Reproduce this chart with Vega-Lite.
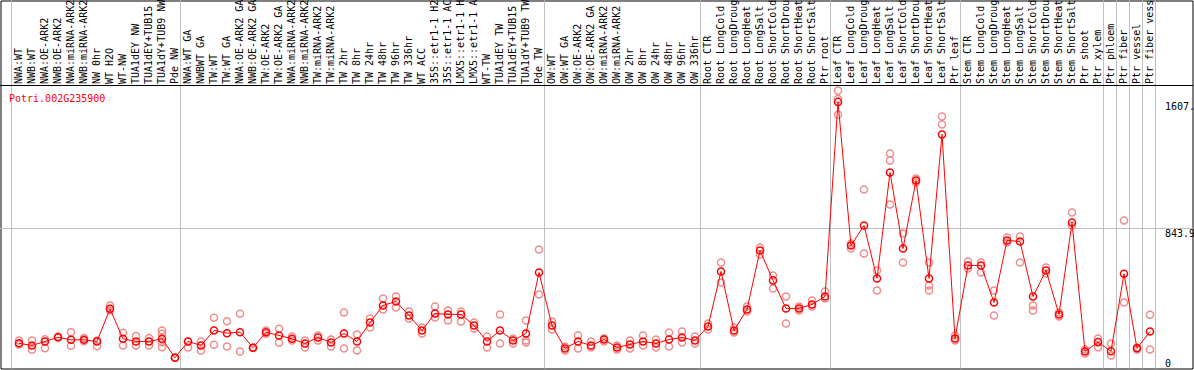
{
  "$schema": "https://vega.github.io/schema/vega-lite/v6.json",
  "autosize": "none",
  "width": 1192,
  "height": 368,
  "padding": {"left": 0.5, "top": 0.5, "right": 1.5, "bottom": 1.5},
  "background": "white",
  "title": {"text": "Potri.002G235900", "orient": "bottom", "anchor": "start", "frame": "group", "offset": 0, "dx": 8.5, "dy": -270.5, "baseline": "middle", "color": "#ff0000", "fontSize": 10, "font": "DejaVu Sans Mono", "fontWeight": "normal"},
  "config": {"view": {"stroke": "black", "strokeWidth": 1}, "font": "DejaVu Sans Mono"},
  "data": {"values": [
    {"s": "NWA:WT", "m": 152, "r": [169, 145], "g": "b"},
    {"s": "NWB:WT", "m": 139, "r": [169, 113], "g": ""},
    {"s": "NWA:OE-ARK2", "m": 163, "r": [176, 122], "g": ""},
    {"s": "NWB:OE-ARK2", "m": 188, "r": [193, 187], "g": ""},
    {"s": "NWA:miRNA-ARK2", "m": 173, "r": [219, 137], "g": ""},
    {"s": "NWB:miRNA-ARK2", "m": 173, "r": [183, 165], "g": ""},
    {"s": "NW 0hr", "m": 163, "r": [169, 134], "g": ""},
    {"s": "WT H2O", "m": 360, "r": [380, 350], "g": ""},
    {"s": "WT-NW", "m": 179, "r": [215, 139], "g": ""},
    {"s": "TUA1dEY NW", "m": 163, "r": [195, 139], "g": ""},
    {"s": "TUA1dEY+TUB15 NW", "m": 163, "r": [183, 139], "g": ""},
    {"s": "TUA1dY+TUB9 NW", "m": 179, "r": [229, 209, 159, 128], "g": ""},
    {"s": "Pde NW", "m": 65, "r": [65, 66], "g": "e"},
    {"s": "NWA:WT GA", "m": 163, "r": [163, 127], "g": ""},
    {"s": "NWBWT GA", "m": 139, "r": [163, 109], "g": ""},
    {"s": "TW:WT", "m": 229, "r": [306, 143], "g": ""},
    {"s": "TW:WT GA", "m": 213, "r": [285, 133], "g": ""},
    {"s": "NWA:OE-ARK2 GA", "m": 219, "r": [330, 103], "g": ""},
    {"s": "NWB:OE-ARK2 GA", "m": 125, "r": [127, 124], "g": ""},
    {"s": "TW:OE-ARK2", "m": 219, "r": [229, 209], "g": ""},
    {"s": "TW:OE-ARK2 GA", "m": 199, "r": [239, 155], "g": ""},
    {"s": "NWA:miRNA-ARK2 GA", "m": 179, "r": [193, 169], "g": ""},
    {"s": "NWB:miRNA-ARK2 GA", "m": 151, "r": [169, 127], "g": ""},
    {"s": "TW:miRNA-ARK2", "m": 187, "r": [199, 169], "g": ""},
    {"s": "TW:miRNA-ARK2 GA", "m": 157, "r": [175, 133], "g": ""},
    {"s": "TW 2hr", "m": 211, "r": [338, 121], "g": ""},
    {"s": "TW 8hr", "m": 163, "r": [205, 109], "g": ""},
    {"s": "TW 24hr", "m": 277, "r": [301, 247], "g": ""},
    {"s": "TW 48hr", "m": 380, "r": [422, 356], "g": ""},
    {"s": "TW 96hr", "m": 404, "r": [434, 368], "g": ""},
    {"s": "TW 336hr", "m": 320, "r": [344, 301], "g": ""},
    {"s": "WT ACC", "m": 229, "r": [247, 211], "g": ""},
    {"s": "35S::etr1-1 H2O", "m": 332, "r": [374, 307], "g": ""},
    {"s": "35S::etr1-1 ACC", "m": 326, "r": [350, 289], "g": ""},
    {"s": "LMX5::etr1-1 H2O", "m": 326, "r": [344, 283], "g": ""},
    {"s": "LMX5::etr1-1 ACC", "m": 259, "r": [277, 241], "g": ""},
    {"s": "WT-TW", "m": 163, "r": [193, 127], "g": ""},
    {"s": "TUA1dEY TW", "m": 229, "r": [326, 151], "g": ""},
    {"s": "TUA1dEY+TUB15 TW", "m": 169, "r": [181, 151], "g": ""},
    {"s": "TUA1dY+TUB9 TW", "m": 211, "r": [289, 169, 157], "g": ""},
    {"s": "Pde TW", "m": 579, "r": [717, 446], "g": "e"},
    {"s": "OW:WT", "m": 259, "r": [283, 235], "g": ""},
    {"s": "OW:WT GA", "m": 121, "r": [133, 109], "g": ""},
    {"s": "OW:OE-ARK2", "m": 163, "r": [199, 121], "g": ""},
    {"s": "OW:OE-ARK2 GA", "m": 139, "r": [163, 127], "g": ""},
    {"s": "OW:miRNA-ARK2", "m": 175, "r": [181, 163], "g": ""},
    {"s": "OW:miRNA-ARK2 GA", "m": 127, "r": [139, 115], "g": ""},
    {"s": "OW 2hr", "m": 145, "r": [169, 121], "g": ""},
    {"s": "OW 8hr", "m": 163, "r": [199, 139], "g": ""},
    {"s": "OW 24hr", "m": 151, "r": [175, 127], "g": ""},
    {"s": "OW 48hr", "m": 175, "r": [217, 133], "g": ""},
    {"s": "OW 96hr", "m": 187, "r": [223, 157], "g": ""},
    {"s": "OW 336hr", "m": 169, "r": [193, 151], "g": "e"},
    {"s": "Root CTR", "m": 253, "r": [271, 235], "g": ""},
    {"s": "Root LongCold", "m": 585, "r": [639, 518], "g": ""},
    {"s": "Root LongDrought", "m": 229, "r": [247, 217], "g": ""},
    {"s": "Root LongHeat", "m": 356, "r": [374, 344], "g": ""},
    {"s": "Root LongSalt", "m": 711, "r": [729, 687], "g": ""},
    {"s": "Root ShortCold", "m": 531, "r": [561, 482], "g": ""},
    {"s": "Root ShortDrought", "m": 362, "r": [434, 271], "g": ""},
    {"s": "Root ShortHeat", "m": 362, "r": [374, 350], "g": ""},
    {"s": "Root ShortSalt", "m": 386, "r": [410, 374], "g": ""},
    {"s": "Ptr root", "m": 434, "r": [464, 422], "g": "e"},
    {"s": "Leaf CTR", "m": 1607, "r": [1675, 1625, 1530], "g": ""},
    {"s": "Leaf LongCold", "m": 741, "r": [754, 723], "g": ""},
    {"s": "Leaf LongDrought", "m": 862, "r": [1079, 693], "g": ""},
    {"s": "Leaf LongHeat", "m": 543, "r": [591, 470], "g": ""},
    {"s": "Leaf LongSalt", "m": 1182, "r": [1296, 1254, 989], "g": ""},
    {"s": "Leaf ShortCold", "m": 723, "r": [814, 639], "g": ""},
    {"s": "Leaf ShortDrought", "m": 1133, "r": [1145, 1121], "g": ""},
    {"s": "Leaf ShortHeat", "m": 543, "r": [639, 500, 470], "g": ""},
    {"s": "Leaf ShortSalt", "m": 1411, "r": [1519, 1471], "g": ""},
    {"s": "Ptr leaf", "m": 181, "r": [199, 169], "g": "e"},
    {"s": "Stem CTR", "m": 621, "r": [645, 603], "g": ""},
    {"s": "Stem LongCold", "m": 621, "r": [639, 579], "g": ""},
    {"s": "Stem LongDrought", "m": 398, "r": [470, 320], "g": ""},
    {"s": "Stem LongHeat", "m": 772, "r": [790, 760], "g": ""},
    {"s": "Stem LongSalt", "m": 766, "r": [796, 639], "g": ""},
    {"s": "Stem ShortCold", "m": 434, "r": [380, 350], "g": ""},
    {"s": "Stem ShortDrought", "m": 591, "r": [609, 573], "g": ""},
    {"s": "Stem ShortHeat", "m": 326, "r": [338, 314], "g": ""},
    {"s": "Stem ShortSalt", "m": 880, "r": [940, 862], "g": ""},
    {"s": "Ptr shoot", "m": 103, "r": [115, 90], "g": ""},
    {"s": "Ptr xylem", "m": 159, "r": [181, 128], "g": "e"},
    {"s": "Ptr phloem", "m": 104, "r": [151, 78], "g": "e"},
    {"s": "Ptr fiber", "m": 571, "r": [892, 398], "g": "e"},
    {"s": "Ptr vessel", "m": 122, "r": [127, 115], "g": "e"},
    {"s": "Ptr fiber vessel", "m": 223, "r": [324, 115], "g": "e"}
  ]},
  "layer": [
    {
      "mark": {"type": "rule", "color": "#c0c0c0", "strokeWidth": 1, "xOffset": 5.5},
      "encoding": {
        "x": {"field": "s", "type": "nominal", "sort": null,
          "scale": {"type": "band", "paddingInner": 0, "paddingOuter": 0, "range": [12, 1156]}},
        "strokeOpacity": {"condition": {"test": "datum.g == 'e'", "value": 1}, "value": 0}
      }
    },
    {
      "mark": {"type": "rule", "color": "#c0c0c0", "strokeWidth": 1, "xOffset": -7.5},
      "encoding": {
        "x": {"field": "s", "type": "nominal", "sort": null},
        "strokeOpacity": {"condition": {"test": "datum.g == 'b'", "value": 1}, "value": 0}
      }
    },
    {
      "mark": {"type": "rule", "color": "#c0c0c0", "strokeWidth": 1},
      "encoding": {"y": {"datum": 843.9, "type": "quantitative"}}
    },
    {
      "mark": {"type": "rule", "color": "black", "strokeWidth": 1},
      "encoding": {"y": {"datum": 1705.9, "type": "quantitative"}}
    },
    {
      "transform": [{"flatten": ["r"]}],
      "mark": {"type": "point", "filled": false, "color": "#f08c8c", "strokeWidth": 1.5, "size": 50, "opacity": 1},
      "encoding": {
        "x": {"field": "s", "type": "nominal", "sort": null},
        "y": {"field": "r", "type": "quantitative"}
      }
    },
    {
      "mark": {"type": "line", "color": "#ff0000", "strokeWidth": 1},
      "encoding": {
        "x": {"field": "s", "type": "nominal", "sort": null,
          "axis": {"orient": "top", "title": null, "labelAngle": -90, "labelAlign": "left", "labelBaseline": "middle", "labelPadding": -83, "tickSize": 0, "ticks": false, "domain": false, "grid": false, "labelOverlap": false, "labelLimit": 300, "labelFont": "DejaVu Sans Mono", "labelFontSize": 10, "labelColor": "black"}},
        "y": {"field": "m", "type": "quantitative",
          "scale": {"domain": [0, 2218.3], "nice": false, "zero": true},
          "axis": {"orient": "right", "offset": -32, "title": null, "values": [0, 843.9, 1607.4], "labelExpr": "datum.value == 0 ? '0' : format(datum.value, '.1f')", "domain": false, "ticks": false, "tickSize": 0, "labelPadding": 4, "labelFont": "DejaVu Sans Mono", "labelFontSize": 10, "labelColor": "black", "labelAlign": "left", "labelBaseline": {"condition": {"test": "datum.value == 0", "value": "bottom"}, "value": "top"}, "grid": false}}
      }
    },
    {
      "mark": {"type": "point", "filled": false, "color": "#ff0000", "strokeWidth": 1.5, "size": 50, "opacity": 1},
      "encoding": {
        "x": {"field": "s", "type": "nominal", "sort": null},
        "y": {"field": "m", "type": "quantitative"}
      }
    }
  ]
}
